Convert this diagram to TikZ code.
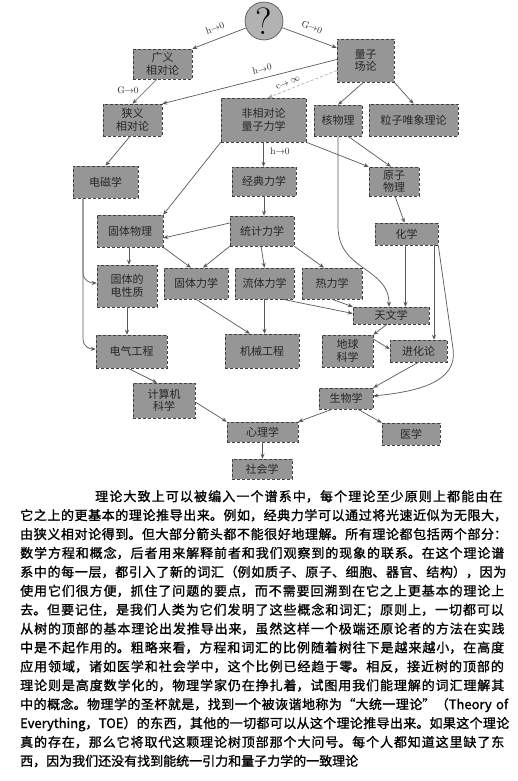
\documentclass[tikz,border=0pt]{standalone}
\usepackage{fontspec}
\usetikzlibrary{arrows.meta,calc}
\newfontfamily\cjk{Noto Sans CJK SC}
\newfontfamily\cjkb{Noto Sans CJK SC}[FakeBold=1.2]
\XeTeXlinebreaklocale "zh"
\XeTeXlinebreakskip=0pt plus 3pt
\tikzset{
  box/.style={draw=black!75, densely dashed, line width=0.5pt, fill=black!41,
    inner sep=0pt, align=center, text=black!85,
    font=\cjk\fontsize{11}{12.5}\selectfont},
  edge/.style={draw=black!65, line width=0.7pt, -{Stealth[length=5pt,width=4pt]}},
  edgec/.style={draw=black!35, line width=0.6pt, densely dashed, -{Stealth[length=5pt,width=4pt]}},
  lab/.style={font=\fontsize{9.5}{11}\selectfont, inner sep=0.5pt, text=black!85}
}
\begin{document}
\begin{tikzpicture}[x=1pt,y=-1pt]
\fill[white] (0,0) rectangle (518,781);
\useasboundingbox (0,0) rectangle (518,781);

% root
\node[circle, draw=black!70, line width=0.6pt, fill=black!30, minimum size=38pt, inner sep=0pt,
  font=\fontsize{38}{38}\selectfont] (q) at (264,21) {?};

% boxes
\node[box, minimum width=59pt, minimum height=30pt] (gr) at (162.5,64) {广义\\相对论};
\node[box, minimum width=59pt, minimum height=32pt] (sr) at (132.5,120) {狭义\\相对论};
\node[box, minimum width=57pt, minimum height=43pt] (qft) at (365.5,60.5) {量子\\场论};
\node[box, minimum width=48pt, minimum height=31pt] (nuc) at (338,120.5) {核物理};
\node[box, minimum width=89pt, minimum height=32pt] (ppt) at (413.5,120) {粒子唯象理论};
\node[box, minimum width=85pt, minimum height=44pt] (nrqm) at (263.5,120) {非相对论\\量子力学};
\node[box, minimum width=64pt, minimum height=29pt] (cm) at (264,181.5) {经典力学};
\node[box, minimum width=50pt, minimum height=29pt] (ap) at (394,181.5) {原子\\物理};
\node[box, minimum width=65pt, minimum height=32pt] (em) at (105.5,182) {电磁学};
\node[box, minimum width=66pt, minimum height=32pt] (ssp) at (130,231) {固体物理};
\node[box, minimum width=64pt, minimum height=30pt] (stat) at (262,231) {统计力学};
\node[box, minimum width=63pt, minimum height=22pt] (chem) at (406.5,234) {化学};
\node[box, minimum width=60pt, minimum height=42pt] (esp) at (127,286) {固体的\\电性质};
\node[box, minimum width=64pt, minimum height=31pt] (sm) at (196,283.5) {固体力学};
\node[box, minimum width=59pt, minimum height=31pt] (fm) at (264.5,283.5) {流体力学};
\node[box, minimum width=60pt, minimum height=31pt] (td) at (332,283.5) {热力学};
\node[box, minimum width=76pt, minimum height=17pt] (ast) at (391,315.5) {天文学};
\node[box, minimum width=71pt, minimum height=33pt] (ee) at (131.5,351.5) {电气工程};
\node[box, minimum width=74pt, minimum height=34pt] (me) at (262,351) {机械工程};
\node[box, minimum width=51pt, minimum height=32pt] (geo) at (347.5,351) {地球\\科学};
\node[box, minimum width=57pt, minimum height=22pt] (evo) at (418.5,351) {进化论};
\node[box, minimum width=54pt, minimum height=21pt] (bio) at (346,398.5) {生物学};
\node[box, minimum width=62pt, minimum height=35pt] (cs) at (164,400.5) {计算机\\科学};
\node[box, minimum width=71pt, minimum height=20pt] (psy) at (262.5,432) {心理学};
\node[box, minimum width=58pt, minimum height=22pt] (med) at (411,434) {医学};
\node[box, minimum width=60pt, minimum height=20pt] (soc) at (262,469) {社会学};

% edges
\draw[edge] (q) -- (gr.north east);
\draw[edge] (q) -- ([yshift=-9pt]qft.north west);
\draw[edge] ([xshift=-5.5pt]gr.south) -- (sr.north);
\draw[edge] ([yshift=1pt]qft.west) -- (sr.north east);
\draw[edgec] ([yshift=-10pt]qft.west) -- ([xshift=4.5pt]nrqm.north);
\draw[edge] ([xshift=-2pt]qft.south) -- (nuc.north);
\draw[edge] (qft.south east) -- (ppt.north);
\draw[edge] ([xshift=-2.5pt]sr.south) -- (em.north);
\draw[edge] (nrqm.south west) -- (ssp.north east);
\draw[edge] (nrqm.south) -- (nrqm.south |- cm.north);
\draw[edge] (nrqm.south east) -- (ap.north west);
\draw[edge] ([xshift=10pt]nuc.south) -- ([xshift=-3pt]ap.north);
\draw[edge] (nuc.south) -- ++(0,90) .. controls +(0,45) and +(0,-40) .. ([xshift=-2pt]ast.north);
\draw[edge] (cm.south) -- (cm.south |- stat.north);
\draw[edge] ([xshift=1pt]ap.south) -- ([xshift=-2pt]chem.north);
\draw[edge] ([yshift=8pt]stat.west) -- ([yshift=-7pt]ssp.east);
\draw[edge] (stat.south west) -- ([xshift=7pt]sm.north);
\draw[edge] (ssp.south east) -- ([xshift=-5pt]sm.north);
\draw[edge] ([xshift=-1pt]ssp.south) -- ([xshift=-1pt]ssp.south |- esp.north);
\coordinate (emx) at ([xshift=-22.5pt]em.south);
\draw[edge] (emx) -- ++(0,74) .. controls +(0,9) and +(-6,0) .. ([yshift=3pt]esp.west);
\draw[edge] (emx) -- ++(0,140) .. controls +(0,9) and +(-6,0) .. ([yshift=2.5pt]ee.west);
\draw[edge] ([xshift=-1pt]stat.south) -- (fm.north);
\draw[edge] (stat.south east) -- ([xshift=-8pt]td.north);
\draw[edge] ([xshift=-1pt]chem.south) -- ([xshift=-1pt]chem.south |- ast.north);
\draw[edge] ([xshift=27.5pt]chem.south) -- ([xshift=27.5pt]chem.south |- evo.north);
\draw[edge] (chem.south east) -- ++(15,105) .. controls +(3,30) and +(50,-5) .. ([yshift=2.5pt]bio.east);
\draw[edge] (sm.south) -- ([xshift=-12pt]me.north);
\draw[edge] (fm.south) -- (fm.south |- me.north);
\draw[edge] ([xshift=18pt]fm.south) -- ([yshift=2pt]ast.west);
\draw[edge] (td.south) -- (ast.north west);
\draw[edge] ([xshift=-4pt]ast.south) -- (geo.north east);
\draw[edge] ([yshift=12pt]geo.east) -- ([yshift=2pt]evo.west);
\draw[edge] (evo.south) -- (bio.north east);
\draw[edge] (esp.south) -- (esp.south |- ee.north);
\draw[edge] ([xshift=-3.5pt]ee.south) -- ([xshift=-7pt]cs.north);
\draw[edge] ([yshift=-1.5pt]cs.east) -- (psy.north west);
\draw[edge] ([xshift=-14pt]bio.south) -- (psy.north east);
\draw[edge] ([xshift=12pt]bio.south) -- (med.north west);
\draw[edge] (psy.south) -- (psy.south |- soc.north);

% edge labels
\node[lab, rotate=20] (l1) at (215,28) {h$\to$0};
\node[lab, rotate=-21] (l2) at (312,27) {G$\to$0};
\node[lab] (l3) at (128,90) {G$\to$0};
\node[lab, rotate=14] (l4) at (262,69) {h$\to$0};
\node[lab, rotate=22] (l5) at (288,83) {c$\to\infty$};
\node[lab] (l6) at (280,151) {h$\to$0};

% paragraph
\node[anchor=north west, text width=492pt, inner sep=0pt,
  font=\cjkb\fontsize{13}{18.9}\selectfont] (para) at (20,490) {%
\tolerance=10000\hspace*{75pt}理论大致上可以被编入一个谱系中，每个理论至少原则上都能由在\linebreak
它之上的更基本的理论推导出来。例如，经典力学可以通过将光速近似为无限大，\linebreak
由狭义相对论得到。但大部分箭头都不能很好地理解。所有理论都包括两个部分：\linebreak
数学方程和概念，后者用来解释前者和我们观察到的现象的联系。在这个理论谱\linebreak
系中的每一层，都引入了新的词汇（例如质子、原子、细胞、器官、结构），因为\linebreak
使用它们很方便，抓住了问题的要点，而不需要回溯到在它之上更基本的理论上\linebreak
去。但要记住，是我们人类为它们发明了这些概念和词汇；原则上，一切都可以\linebreak
从树的顶部的基本理论出发推导出来，虽然这样一个极端还原论者的方法在实践\linebreak
中是不起作用的。粗略来看，方程和词汇的比例随着树往下是越来越小，在高度\linebreak
应用领域，诸如医学和社会学中，这个比例已经趋于零。相反，接近树的顶部的\linebreak
理论则是高度数学化的，物理学家仍在挣扎着，试图用我们能理解的词汇理解其\linebreak
中的概念。物理学的圣杯就是，找到一个被诙谐地称为“大统一理论”（Theory of\linebreak
Everything，TOE）的东西，其他的一切都可以从这个理论推导出来。如果这个理论\linebreak
真的存在，那么它将取代这颗理论树顶部那个大问号。每个人都知道这里缺了东\linebreak
西，因为我们还没有找到能统一引力和量子力学的一致理论};
\end{tikzpicture}
\end{document}
